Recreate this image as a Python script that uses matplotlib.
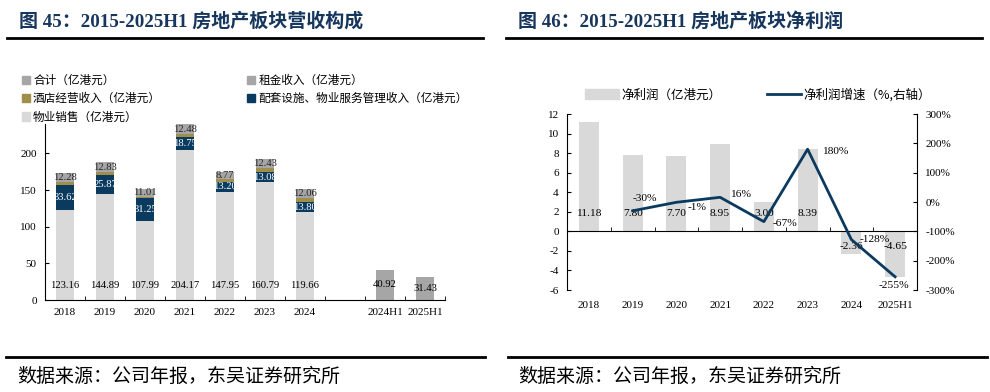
import numpy as np
import matplotlib.pyplot as plt
from matplotlib.patches import Patch
from matplotlib.lines import Line2D

plt.rcParams['font.family'] = ['Liberation Serif', 'Noto Sans CJK SC', 'DejaVu Sans']
plt.rcParams['axes.unicode_minus'] = False

# =========================
# data
# =========================
cats_l = ['2018', '2019', '2020', '2021', '2022', '2023', '2024', '', '2024H1', '2025H1']
sales = [123.16, 144.89, 107.99, 204.17, 147.95, 160.79, 119.66, np.nan, np.nan, np.nan]
service = [33.62, 25.87, 31.25, 18.75, 13.20, 13.08, 13.80, np.nan, np.nan, np.nan]
hotel = [4.0, 4.0, 1.5, 4.0, 4.5, 6.0, 6.3, np.nan, np.nan, np.nan]   # 无标注, 估计
rent = [12.28, 12.83, 11.01, 12.48, 8.77, 12.43, 12.06, np.nan, np.nan, np.nan]
total = [np.nan] * 8 + [40.92, 31.43]

cats_r = ['2018', '2019', '2020', '2021', '2022', '2023', '2024', '2025H1']
profit = [11.18, 7.80, 7.70, 8.95, 3.00, 8.39, -2.36, -4.65]
growth = [np.nan, -30, -1, 16, -67, 180, -128, -255]
growth_off = [None, (9, 9), (15, -4), (15, 2), (15, -1), (20, -2), (17, 0), (-1, -6)]

C_LIGHT = '#d9d9d9'
C_GRAY = '#a6a6a6'
C_NAVY = '#0b3a5f'
C_OLIVE = '#a08f4b'
C_TITLE = '#17365d'
CJK = ['Noto Sans CJK SC', 'DejaVu Sans']

fig = plt.figure(figsize=(9.9, 3.92), dpi=100)

# =========================
# titles / source lines
# =========================
fig.text(19 / 990, 1 - 21 / 392, '图 45：2015-2025H1 房地产板块营收构成', fontsize=13.7,
         fontweight='bold', color=C_TITLE, va='center', ha='left')
fig.text(518 / 990, 1 - 21 / 392, '图 46：2015-2025H1 房地产板块净利润', fontsize=13.7,
         fontweight='bold', color=C_TITLE, va='center', ha='left')
for x0, x1 in [(7, 483), (506, 982)]:
    fig.add_artist(Line2D([x0 / 990, x1 / 990], [1 - 38 / 392] * 2, color='black', lw=2))
for x0, x1 in [(6, 485), (508, 987)]:
    fig.add_artist(Line2D([x0 / 990, x1 / 990], [1 - 357 / 392] * 2, color='black', lw=2))
fig.text(17 / 990, 1 - 376 / 392, '数据来源：公司年报，东吴证券研究所', fontsize=13.7,
         family=CJK, va='center', ha='left')
fig.text(518 / 990, 1 - 376 / 392, '数据来源：公司年报，东吴证券研究所', fontsize=13.7,
         family=CJK, va='center', ha='left')

# =========================
# 左图：营收构成
# =========================
ax1 = fig.add_axes([45 / 990, 92 / 392, 400 / 990, 176 / 392])
x = np.arange(len(cats_l))
w = 0.45
b1 = np.nan_to_num(sales)
b2 = b1 + np.nan_to_num(service)
b3 = b2 + np.nan_to_num(hotel)

ax1.bar(x, sales, w, color=C_LIGHT)
ax1.bar(x, service, w, bottom=b1, color=C_NAVY)
ax1.bar(x, hotel, w, bottom=b2, color=C_OLIVE)
ax1.bar(x, rent, w, bottom=b3, color=C_GRAY)
ax1.bar(x, total, w, color=C_GRAY)

for i in range(len(x)):
    if not np.isnan(sales[i]):
        ax1.text(x[i], 20, f'{sales[i]:.2f}', ha='center', va='center', fontsize=7.7)
        ax1.text(x[i], b1[i] + service[i] / 2, f'{service[i]:.2f}', ha='center', va='center',
                 fontsize=7.7, color='white')
        ax1.text(x[i], b3[i] + rent[i] / 2, f'{rent[i]:.2f}', ha='center', va='center',
                 fontsize=7.7, color='#262626')
    if not np.isnan(total[i]):
        ax1.text(x[i], total[i] / 2, f'{total[i]:.2f}', ha='center', va='center', fontsize=7.7)

ax1.set_xlim(-0.5, len(x) - 0.5)
ax1.set_ylim(0, 240)
ax1.set_yticks([0, 50, 100, 150, 200])
ax1.set_xticks(x)
ax1.set_xticklabels(cats_l)
ax1.set_xticks(np.arange(len(x)) + 0.5, minor=True)
ax1.tick_params(axis='x', which='major', length=0, pad=6, labelsize=8)
ax1.tick_params(axis='x', which='minor', direction='in', length=3)
ax1.tick_params(axis='y', direction='in', length=3, labelsize=8, pad=6)
for s in ['top', 'right']:
    ax1.spines[s].set_visible(False)

handles = [Patch(color=C_GRAY), Patch(color=C_OLIVE), Patch(color=C_LIGHT),
           Patch(color=C_GRAY), Patch(color=C_NAVY)]
labels = ['合计（亿港元）', '酒店经营收入（亿港元）', '物业销售（亿港元）',
          '租金收入（亿港元）', '配套设施、物业服务管理收入（亿港元）']
fig.legend(handles, labels, loc='upper left', bbox_to_anchor=(22 / 990, 1 - 74 / 392),
           ncol=2, frameon=False, prop={'family': CJK, 'size': 8.4}, handlelength=0.7,
           handleheight=0.7, handletextpad=0.25, columnspacing=7.4, labelspacing=0.45,
           borderpad=0, borderaxespad=0)

# =========================
# 右图：净利润
# =========================
ax2 = fig.add_axes([567 / 990, 102 / 392, 350 / 990, 176 / 392])
xr = np.arange(len(cats_r))
ax2.bar(xr, profit, 0.46, color=C_LIGHT, zorder=1)
for i, v in enumerate(profit):
    ax2.text(xr[i], 1.8 if v > 0 else -1.6, f'{v:.2f}', ha='center', va='center', fontsize=8.2,
             zorder=4)
ax2.set_xlim(-0.5, len(xr) - 0.5)
ax2.set_ylim(-6, 12)
ax2.set_yticks(np.arange(-6, 13, 2))
ax2.spines['bottom'].set_position(('data', 0))
ax2.set_xticks(xr)
ax2.set_xticklabels([])
ax2.set_xticks(xr + 0.5, minor=True)
ax2.tick_params(axis='x', which='major', length=0)
ax2.tick_params(axis='x', which='minor', direction='in', length=3)
ax2.tick_params(axis='y', direction='in', length=3, labelsize=8, pad=6)
for i, c in enumerate(cats_r):
    ax2.text(xr[i], -0.09, c, transform=ax2.get_xaxis_transform(), ha='center', va='center',
             fontsize=8)
ax2.spines['top'].set_visible(False)
ax2.spines['right'].set_visible(False)

ax3 = ax2.twinx()
ax3.plot(xr, growth, color=C_NAVY, lw=2, zorder=3)
for i, g in enumerate(growth):
    if np.isnan(g):
        continue
    ax3.annotate(f'{g:.0f}%', (xr[i], g), xytext=growth_off[i], textcoords='offset points',
                 ha='center', va='center', fontsize=8.2)
ax3.set_ylim(-300, 300)
ax3.set_yticks(np.arange(-300, 301, 100))
ax3.set_yticklabels([f'{v}%' for v in range(-300, 301, 100)])
ax3.tick_params(axis='y', direction='in', length=3, labelsize=8, pad=6)
ax3.spines['top'].set_visible(False)
ax3.spines['bottom'].set_visible(False)
ax3.spines['left'].set_visible(False)

fig.legend([Patch(color=C_LIGHT), Line2D([], [], color=C_NAVY, lw=2)],
           ['净利润（亿港元）', '净利润增速（%,右轴）'], loc='upper left',
           bbox_to_anchor=(585 / 990, 1 - 88 / 392), ncol=2, frameon=False,
           prop={'family': CJK, 'size': 9}, handlelength=2.7, handleheight=0.9,
           handletextpad=0.25, columnspacing=3.6, borderpad=0, borderaxespad=0)

fig.savefig('out.png', dpi=100)
